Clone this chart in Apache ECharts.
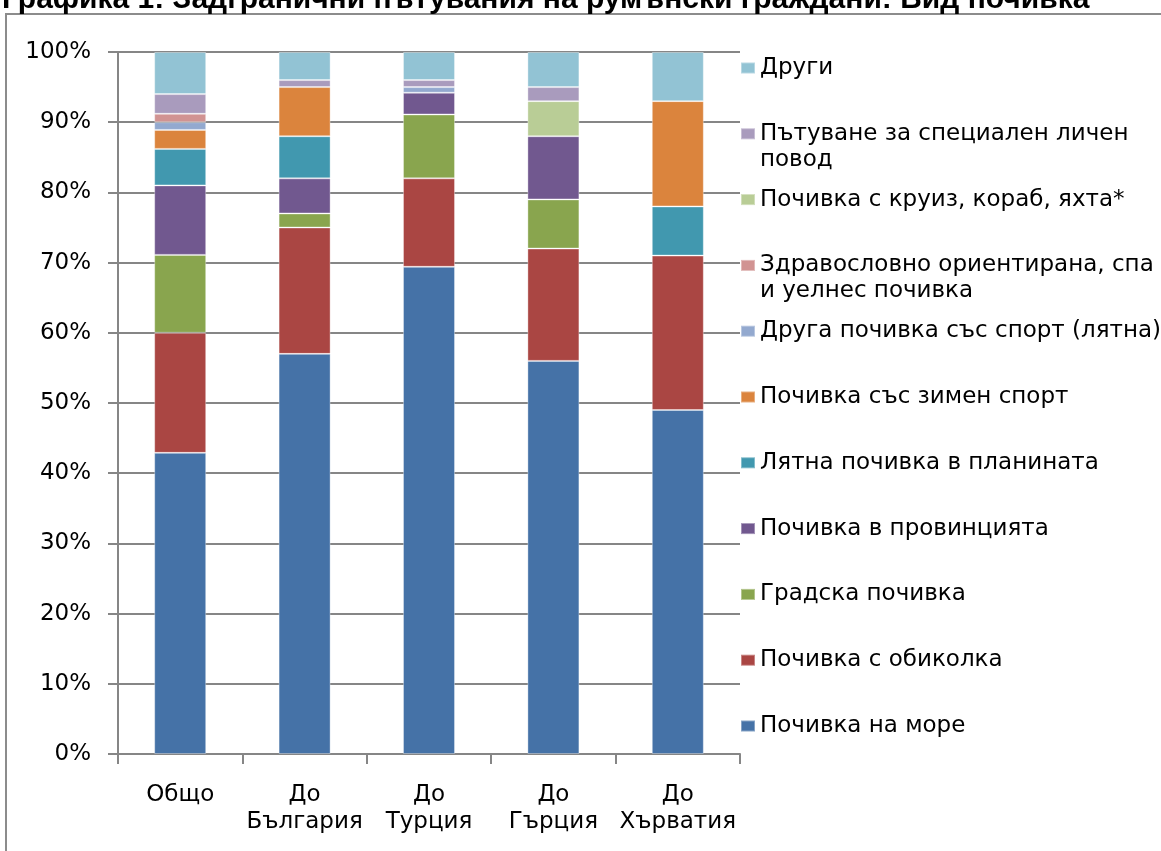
<!DOCTYPE html>
<html>
<head>
<meta charset="utf-8">
<script src="https://cdn.jsdelivr.net/npm/echarts@6/dist/echarts.min.js"></script>
<style>
  html, body { margin: 0; padding: 0; background: #ffffff; }
  #chart { width: 1161px; height: 851px; }
</style>
</head>
<body>
<div id="chart"></div>
<script>
// Categories (destinations) on the x axis
const categories = ['Общо', 'До\nБългария', 'До\nТурция', 'До\nГърция', 'До\nХърватия'];

// Shares (%) of each type of holiday, per destination, stacked bottom to top
const seaValues        = [42.9, 57, 69.4, 56, 49];
const tourValues       = [17.1, 18, 12.6, 16, 22];
const cityValues       = [11.1, 2, 9.1, 7, 0];
const provinceValues   = [9.9, 5, 3.1, 9, 0];
const mountainValues   = [5.2, 6, 0, 0, 7];
const winterValues     = [2.7, 7, 0, 0, 15];
const otherSportValues = [1.1, 0, 0.8, 0, 0];
const spaValues        = [1.2, 0, 0, 0, 0];
const cruiseValues     = [0, 0, 0, 5, 0];
const specialValues    = [2.8, 1, 1, 2, 0];
const othersValues     = [6, 4, 4, 5, 7];

const seriesNames = [
  'Почивка на море',
  'Почивка с обиколка',
  'Градска почивка',
  'Почивка в провинцията',
  'Лятна почивка в планината',
  'Почивка със зимен спорт',
  'Друга почивка със спорт (лятна)',
  'Здравословно ориентирана, спа\nи уелнес почивка',
  'Почивка с круиз, кораб, яхта*',
  'Пътуване за специален личен\nповод',
  'Други'
];
const seriesValues = [
  seaValues, tourValues, cityValues, provinceValues, mountainValues,
  winterValues, otherSportValues, spaValues, cruiseValues, specialValues, othersValues
];
const seriesColors = [
  '#4572A7', '#AA4643', '#89A54E', '#71588F', '#4198AF',
  '#DB843D', '#93A9CF', '#D19392', '#B9CD96', '#A99BBD', '#92C3D4'
];

const titleText = 'Графика 1: Задгранични пътувания на румънски граждани: Вид почивка';

const LABEL_FONT = 'DejaVu Sans';
const LEGEND_LINE = 26;

const series = seriesNames.map((name, i) => ({
  name: name,
  type: 'bar',
  stack: 'total',
  barWidth: 52,
  data: seriesValues[i].map(v => (v === 0 ? null : v)),
  itemStyle: {
    color: seriesColors[i],
    borderColor: 'rgba(255,255,255,0.35)',
    borderWidth: 1
  }
}));

// One legend block per entry, listed top-down in reverse stacking order.
// Wrapped entries get an empty leading line so the marker sits beside the first line.
const legends = [];
const legendOrder = seriesNames.slice().reverse();
legendOrder.forEach((name, i) => {
  const center = 68 + 65.8 * i;
  const twoLines = name.indexOf('\n') >= 0;
  legends.push({
    data: [name],
    orient: 'vertical',
    left: 740,
    top: twoLines ? center - LEGEND_LINE * 1.5 : center - LEGEND_LINE / 2,
    padding: 0,
    itemWidth: 14,
    itemHeight: 11,
    itemGap: 0,
    icon: 'rect',
    selectedMode: false,
    formatter: twoLines ? (n => ' \n' + n) : (n => n),
    textStyle: {
      fontFamily: LABEL_FONT,
      fontSize: 23,
      lineHeight: LEGEND_LINE,
      color: '#000000'
    }
  });
});

const chart = echarts.init(document.getElementById('chart'), null, { renderer: 'canvas' });

chart.setOption({
  backgroundColor: '#ffffff',
  animation: false,
  title: {
    text: titleText,
    left: 2,
    top: -15,
    padding: 0,
    textStyle: {
      fontFamily: 'Liberation Sans',
      fontWeight: 'bold',
      fontSize: 30,
      color: '#000000'
    }
  },
  graphic: [{
    type: 'rect',
    silent: true,
    z: -10,
    shape: { x: 6, y: 14, width: 1200, height: 900 },
    style: { fill: 'none', stroke: '#8c8c8c', lineWidth: 2 }
  }],
  legend: legends,
  grid: { left: 118, right: 421, top: 52, bottom: 97, containLabel: false },
  xAxis: {
    type: 'category',
    data: categories,
    axisLine: { show: true, lineStyle: { color: '#868686', width: 2 } },
    axisTick: { show: true, length: 10, lineStyle: { color: '#868686', width: 2 } },
    axisLabel: {
      color: '#000000',
      fontFamily: LABEL_FONT,
      fontSize: 23,
      lineHeight: 27,
      margin: 28,
      interval: 0
    }
  },
  yAxis: {
    type: 'value',
    min: 0,
    max: 100,
    interval: 10,
    axisLine: { show: true, lineStyle: { color: '#868686', width: 2 } },
    axisTick: { show: true, length: 10, lineStyle: { color: '#868686', width: 2 } },
    axisLabel: {
      formatter: '{value}%',
      color: '#000000',
      fontFamily: LABEL_FONT,
      fontSize: 23,
      margin: 27
    },
    splitLine: { show: true, lineStyle: { color: '#868686', width: 2 } }
  },
  series: series
});
</script>
</body>
</html>
